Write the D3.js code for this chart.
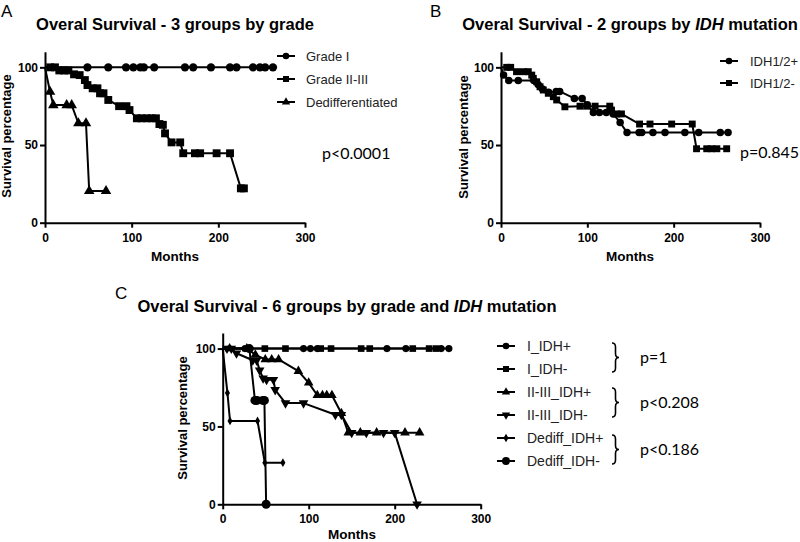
<!DOCTYPE html>
<html>
<head>
<meta charset="utf-8">
<script src="https://cdn.jsdelivr.net/npm/d3@7"></script>
<style>
  html, body { margin: 0; padding: 0; background: #fff; }
  svg { display: block; }
</style>
</head>
<body>
<svg id="chart" width="800" height="542"></svg>
<script>
// ---------------- DATA (month, survival %) ----------------
const xTicks = [0, 100, 200, 300];
const yTicks = [0, 50, 100];

// Panel A
const gradeI = [[0,100],[49,100],[73,100],[93.5,100],[102,100],[110,100],[114,100],[126,100],[161.5,100],[171,100],[191.5,100],[213.5,100],[221,100],[240,100],[248,100],[254,100],[263,100]];
const gradeII_III = [[0,100],[6,100],[11.5,100],[16.5,98],[22,98],[27,98],[33.5,95.5],[40,95],[46,91.8],[49,88.6],[55,86.5],[60.5,86.5],[63.5,83.3],[67.5,83.3],[73,79],[85.5,75],[94,75],[97.5,72.5],[106,67.2],[111.5,67.2],[117.5,67.2],[123,67.2],[128,67.2],[132,63.5],[136,63],[138.5,57.5],[146,51.7],[156,51.7],[159.5,44.7],[173,44.7],[179,44.7],[198,44.7],[213.5,44.7],[226,22.1],[229.5,22.1]];
const dedifferentiated = [[0,100],[5.8,84.3],[9.6,75.7],[25,75.7],[30.8,75.7],[38.5,64],[47.3,64],[51,20.4],[70.4,20.4]];

// Panel B
const idhPos = [[0,100],[3,95],[9,91.5],[20,91.5],[38,91.5],[43,89],[48,86],[55,84],[64,84.5],[68,84.5],[85,80],[94,80],[100,76],[107,71],[114,71],[122,71],[130,70],[138,64.5],[146,58],[160,58],[163,58],[176,58],[190,58],[213,58],[229,58],[254,58],[263,58]];
const idhNeg = [[0,100],[6.6,100],[11.2,100],[18,97.2],[26,97.2],[31.6,97.2],[35.6,95],[37.4,92.9],[41.3,90.7],[45.2,87.5],[49,85.4],[54.8,83.3],[60.6,81.1],[64.5,79],[74,74.6],[91.5,75],[99.3,75],[109,75],[126,75],[128,72.5],[134,70],[139.5,70],[160.5,63.5],[172.6,63.5],[197.7,63.5],[221.5,63.5],[226.5,47.6],[238.3,47.6],[244,47.6],[250,47.6],[261.4,47.6]];

// Panel C
const iIdhPos = [[0,100],[26,100],[30,100],[94,100],[102,100],[110,100],[191,100],[213,100],[254,100],[263,100]];
const iIdhNeg = [[0,100],[49,100],[73,100],[114,100],[126,100],[161,100],[171,100],[221,100],[240,100],[248,100]];
const iiIiiIdhPos = [[0,100],[8,100],[28,100],[38,96],[49.5,93],[57,93],[65,93],[88,85.5],[100,78],[110,70],[116,70],[121,70],[127,70],[138,58.5],[146,46],[160,46],[179,46],[212,46],[229,46]];
const iiIiiIdhNeg = [[0,100],[5,100],[10,100],[16,97],[35,92.5],[39.5,92.5],[43,86],[47,81],[51,80],[59,80],[61,73.5],[73,65],[94,65],[131,57.5],[138,57.5],[150,46],[167,46],[187,46],[200,46],[226,0]];
const dedifIdhPos = [[0,100],[5.5,71.5],[8.5,53.5],[40.5,53.5],[49,26.7],[70,26.7]];
const dedifIdhNeg = [[0,100],[31,100],[37.5,66.7],[40,66.7],[46.5,66.7],[48.5,66.7],[50.5,0]];

const legendA = ["Grade I", "Grade II-III", "Dedifferentiated"];
const legendB = ["IDH1/2+", "IDH1/2-"];
const legendC = ["I_IDH+", "I_IDH-", "II-III_IDH+", "II-III_IDH-", "Dediff_IDH+", "Dediff_IDH-"];
const pA = "p<0.0001";
const pB = "p=0.845";
const pC = ["p=1", "p<0.208", "p<0.186"];

// ---------------- DRAWING ----------------
const svg = d3.select("#chart");
const BOLD = "'Liberation Sans', Arial, sans-serif";
const SOFT = "Lato, 'Open Sans', sans-serif";

const sym = {
  circle:   {type: d3.symbolCircle,   rot: 0},
  square:   {type: d3.symbolSquare,   rot: 0},
  triangle: {type: d3.symbolTriangle, rot: 0},
  tridown:  {type: d3.symbolTriangle, rot: 180},
  diamond:  {type: d3.symbolDiamond,  rot: 0}
};

function drawPanel(cfg) {
  const x = d3.scaleLinear().domain([0, 300]).range(cfg.xr);
  const y = d3.scaleLinear().domain([0, 110]).range(cfg.yr);
  const g = svg.append("g");

  // axes
  const xa = g.append("g").attr("transform", `translate(0,${cfg.yr[0]})`)
    .call(d3.axisBottom(x).tickValues(xTicks).tickSize(5).tickSizeOuter(0).tickFormat(d3.format("d")));
  const ya = g.append("g").attr("transform", `translate(${cfg.xr[0]},0)`)
    .call(d3.axisLeft(y).tickValues(yTicks).tickSize(5).tickSizeOuter(0).tickFormat(d3.format("d")));
  [xa, ya].forEach(a => {
    a.select(".domain").attr("stroke", "#000").attr("stroke-width", 2);
    a.selectAll(".tick line").attr("stroke", "#000").attr("stroke-width", 2);
    a.selectAll(".tick text").attr("fill", "#000").style("font-family", BOLD)
      .style("font-weight", "bold").style("font-size", "12px");
  });
  xa.selectAll(".tick text").attr("dy", null).attr("y", 19);
  ya.selectAll(".tick text").attr("x", -7);

  // series
  const line = d3.line().x(d => x(d[0])).y(d => y(d[1]));
  cfg.series.forEach(s => {
    g.append("path").datum(s.data).attr("d", line)
      .attr("fill", "none").attr("stroke", "#000").attr("stroke-width", 2)
      .attr("stroke-linejoin", "round");
    const shape = sym[s.shape];
    g.selectAll(null).data(s.data.filter(d => d[0] > 0)).enter().append("path")
      .attr("d", d3.symbol().type(shape.type).size(s.size))
      .attr("transform", d => `translate(${x(d[0])},${y(d[1])}) rotate(${shape.rot})`)
      .attr("fill", "#000");
  });

  // axis titles
  g.append("text").attr("x", cfg.xlab[0]).attr("y", cfg.xlab[1]).attr("text-anchor", "middle")
    .style("font-family", BOLD).style("font-weight", "bold").style("font-size", "13.5px").text("Months");
  g.append("text").attr("transform", `translate(${cfg.ylab[0]},${cfg.ylab[1]}) rotate(-90)`)
    .attr("text-anchor", "middle")
    .style("font-family", BOLD).style("font-weight", "bold").style("font-size", "13px").text("Survival percentage");

  // title
  const t = g.append("text").attr("x", cfg.title[0]).attr("y", cfg.title[1]).attr("text-anchor", "middle")
    .style("font-family", BOLD).style("font-weight", "bold").style("font-size", "16.5px");
  cfg.titleParts.forEach(p => t.append("tspan").style("font-style", p.it ? "italic" : "normal").text(p.t));

  // panel letter
  g.append("text").attr("x", cfg.letter[0]).attr("y", cfg.letter[1])
    .style("font-family", BOLD).style("font-size", "17px").text(cfg.letter[2]);

  // legend
  cfg.legend.forEach((lab, i) => {
    const ly = cfg.leg.y0 + i * cfg.leg.dy;
    const s = cfg.series[i];
    g.append("line").attr("x1", cfg.leg.x - 9).attr("x2", cfg.leg.x + 9).attr("y1", ly).attr("y2", ly)
      .attr("stroke", "#000").attr("stroke-width", 2);
    const shape = sym[s.shape];
    g.append("path").attr("d", d3.symbol().type(shape.type).size(s.legSize))
      .attr("transform", `translate(${cfg.leg.x},${ly}) rotate(${shape.rot})`).attr("fill", "#000");
    g.append("text").attr("x", cfg.leg.tx).attr("y", ly).attr("dy", "0.35em")
      .style("font-family", BOLD).style("font-size", cfg.leg.fs).attr("fill", "#222").text(lab);
  });
  return g;
}

drawPanel({
  xr: [45, 305], yr: [222.7, 51.8],
  series: [
    {data: gradeI, shape: "circle", size: 55, legSize: 34},
    {data: gradeII_III, shape: "square", size: 62, legSize: 36},
    {data: dedifferentiated, shape: "triangle", size: 48, legSize: 30}
  ],
  legend: legendA, leg: {x: 286, tx: 306, y0: 56, dy: 23, fs: "13px"},
  xlab: [175, 261], ylab: [11, 136],
  title: [175, 30], titleParts: [{t: "Overal Survival - 3 groups by grade"}],
  letter: [1, 16.5, "A"]
});

drawPanel({
  xr: [501, 760], yr: [222.7, 51.8],
  series: [
    {data: idhPos, shape: "circle", size: 44, legSize: 34},
    {data: idhNeg, shape: "square", size: 48, legSize: 36}
  ],
  legend: legendB, leg: {x: 729, tx: 750, y0: 61, dy: 22, fs: "13px"},
  xlab: [630, 261], ylab: [468, 137],
  title: [630, 30], titleParts: [{t: "Overal Survival - 2 groups by "}, {t: "IDH", it: true}, {t: " mutation"}],
  letter: [430, 16.5, "B"]
});

drawPanel({
  xr: [222.7, 480.7], yr: [504.3, 333],
  series: [
    {data: iIdhPos, shape: "circle", size: 40, legSize: 34},
    {data: iIdhNeg, shape: "square", size: 44, legSize: 36},
    {data: iiIiiIdhPos, shape: "triangle", size: 40, legSize: 30},
    {data: iiIiiIdhNeg, shape: "tridown", size: 40, legSize: 30},
    {data: dedifIdhPos, shape: "diamond", size: 22, legSize: 22},
    {data: dedifIdhNeg, shape: "circle", size: 64, legSize: 50}
  ],
  legend: legendC, leg: {x: 506, tx: 527, y0: 346, dy: 23, fs: "14px"},
  xlab: [352, 538.5], ylab: [187, 418],
  title: [347, 312], titleParts: [{t: "Overal Survival - 6 groups by grade and "}, {t: "IDH", it: true}, {t: " mutation"}],
  letter: [115, 299, "C"]
});

// p-values
function pText(x, y, txt) {
  svg.append("text").attr("x", x).attr("y", y).attr("dy", "0.35em")
    .style("font-family", SOFT).style("font-size", "16px").attr("fill", "#000").text(txt);
}
pText(322, 153, pA);
pText(740, 152, pB);

// braces + p-values for panel C
const braceSpans = [[343, 372], [388, 417], [435, 464]];
function brace(x, y0, y1) {
  const w = 7, r = 4, ym = (y0 + y1) / 2;
  const xm = x + w / 2;
  return `M${x},${y0} Q${xm},${y0} ${xm},${y0 + r} L${xm},${ym - r} Q${xm},${ym} ${x + w},${ym} ` +
         `Q${xm},${ym} ${xm},${ym + r} L${xm},${y1 - r} Q${xm},${y1} ${x},${y1}`;
}
braceSpans.forEach((s, i) => {
  svg.append("path").attr("d", brace(612, s[0], s[1])).attr("fill", "none")
    .attr("stroke", "#000").attr("stroke-width", 1.6);
  pText(640, (s[0] + s[1]) / 2, pC[i]);
});
</script>
</body>
</html>
